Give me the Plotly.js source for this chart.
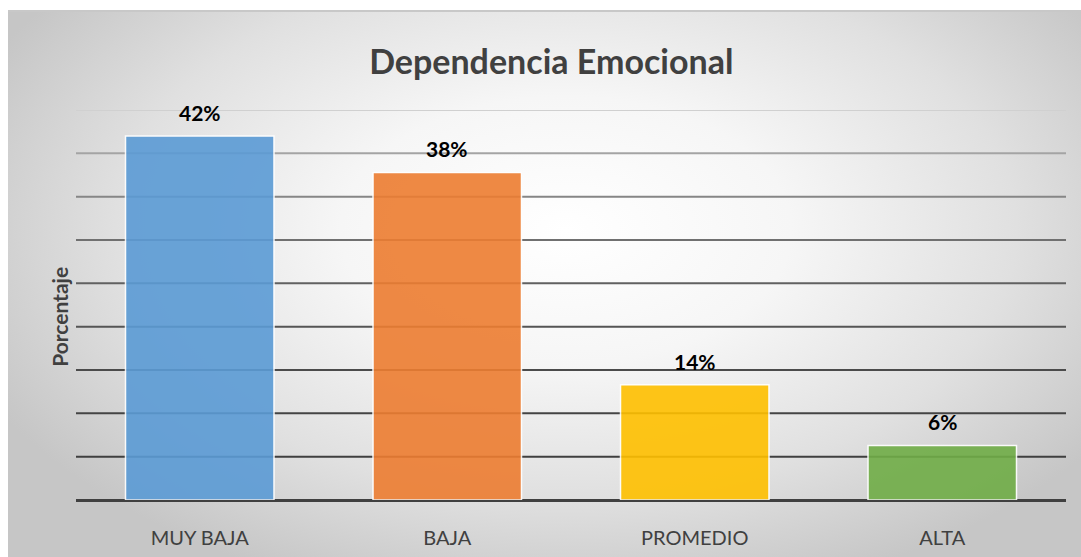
<!DOCTYPE html>
<html>
<head>
<meta charset="utf-8">
<script src="https://cdn.plot.ly/plotly-3.0.1.min.js"></script>
<style>
  html, body { margin: 0; padding: 0; background: #ffffff; }
  #wrap { position: relative; width: 1081px; height: 557px; overflow: hidden; }
  #bg {
    position: absolute; left: 8px; top: 10px; width: 1073px; height: 547px;
    background: radial-gradient(ellipse 60% 70% at 52% 40%, #ffffff 0%, #f6f6f6 35%, #e0e0e0 70%, #c6c6c6 100%);
    border-top: 2px solid #c8c8c8;
    box-sizing: border-box;
  }
  #chart { position: absolute; left: 0; top: 0; width: 1081px; height: 557px; }
</style>
</head>
<body>
<div id="wrap">
  <div id="bg"></div>
  <div id="chart"></div>
</div>
<script>
const categories = ["MUY BAJA", "BAJA", "PROMEDIO", "ALTA"];
const values = [42, 37.8, 13.3, 6.3];
const labels = ["42%", "38%", "14%", "6%"];
const barColors = ["#5B9BD5", "#ED7D31", "#FFC000", "#70AD47"];
const gridLevels = [5, 10, 15, 20, 25, 30, 35, 40, 45];
const gridColors = ["#3f3f3f", "#444444", "#4b4b4b", "#555555", "#616161", "#707070", "#868686", "#a4a4a4", "#d0d0d0"];

const trace = {
  type: "bar",
  x: categories,
  y: values,
  marker: { color: barColors, opacity: 0.9, line: { color: "#ffffff", width: 1.5 } },
  hoverinfo: "x+y",
  showlegend: false
};

const shapes = gridLevels.map((g, i) => ({
  type: "line", xref: "paper", yref: "y", x0: 0, x1: 1, y0: g, y1: g,
  line: { color: gridColors[i], width: 2 }, layer: "below"
}));

const annotations = categories.map((c, i) => ({
  x: c, y: values[i], xref: "x", yref: "y",
  text: "<b>" + labels[i] + "</b>", showarrow: false,
  yanchor: "bottom", yshift: 9,
  font: { family: "Lato, 'Open Sans', sans-serif", size: 21, color: "#000000" }
}));
annotations.push({
  xref: "paper", yref: "paper", x: -0.016, y: 0.47,
  text: "<b>Porcentaje</b>", textangle: -90, showarrow: false,
  xanchor: "center", yanchor: "middle",
  font: { family: "Lato, 'Open Sans', sans-serif", size: 21, color: "#404040" }
});

const layout = {
  width: 1081, height: 557,
  paper_bgcolor: "rgba(0,0,0,0)",
  plot_bgcolor: "rgba(0,0,0,0)",
  margin: { l: 76, r: 15, t: 110, b: 57, pad: 0 },
  title: {
    text: "<b>Dependencia Emocional</b>",
    x: 0.51, xanchor: "center", y: 0.888, yanchor: "middle",
    font: { family: "Lato, 'Open Sans', sans-serif", size: 34, color: "#404040" }
  },
  bargap: 0.4,
  xaxis: {
    type: "category",
    showgrid: false, showline: false, zeroline: false, ticks: "",
    tickfont: { family: "Lato, 'Open Sans', sans-serif", size: 20, color: "#404040" },
    ticklabelstandoff: 24
  },
  yaxis: {
    range: [0, 45],
    showgrid: false, showticklabels: false, ticks: "",
    zeroline: true, zerolinecolor: "#404040", zerolinewidth: 3,
    showline: false, fixedrange: true
  },
  shapes: shapes,
  annotations: annotations
};

Plotly.newPlot("chart", [trace], layout, { displayModeBar: false, staticPlot: true });
</script>
</body>
</html>
